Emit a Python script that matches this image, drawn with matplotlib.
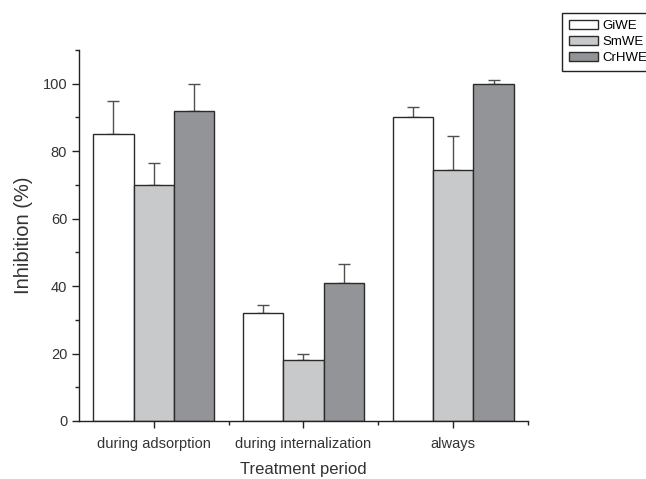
import numpy as np
import matplotlib
matplotlib.use('Agg')
import matplotlib.pyplot as plt
from matplotlib.ticker import MultipleLocator, FixedLocator

plt.rcParams['font.family'] = ['Liberation Sans', 'DejaVu Sans']

# 数据
categories = ['during adsorption', 'during internalization', 'always']
series = ['GiWE', 'SmWE', 'CrHWE']
giwe = [85, 32, 90]
smwe = [70, 18, 74.5]
crhwe = [92, 41, 100]
giwe_err = [10, 2.5, 3.2]
smwe_err = [6.6, 1.8, 10]
crhwe_err = [8, 5.6, 1.1]

colors = ['#ffffff', '#c8c9cb', '#939497']

fig = plt.figure(figsize=(6.46, 4.79), dpi=100)
ax = fig.add_axes([0.1223, 0.1211, 0.695, 0.7745])

x = np.arange(len(categories))
w = 0.27
values = [giwe, smwe, crhwe]
errs = [giwe_err, smwe_err, crhwe_err]
for i in range(3):
    ax.bar(x + (i - 1) * w, values[i], width=w, color=colors[i], edgecolor='#2b2b2b',
           linewidth=1.0, label=series[i], zorder=2)
    ax.errorbar(x + (i - 1) * w, values[i], yerr=[np.zeros(3), errs[i]], fmt='none',
                ecolor='#505050', elinewidth=1.0, capsize=4, capthick=1.0, zorder=1)

ax.set_xlim(-0.5, 2.5)
ax.set_ylim(0, 110)
ax.set_xticks(x)
ax.set_xticklabels(categories)
ax.xaxis.set_minor_locator(FixedLocator([0.5, 1.5, 2.5]))
ax.yaxis.set_major_locator(MultipleLocator(20))
ax.yaxis.set_minor_locator(MultipleLocator(10))
ax.spines['top'].set_visible(False)
ax.spines['right'].set_visible(False)
for s in ['left', 'bottom']:
    ax.spines[s].set_linewidth(1.0)
    ax.spines[s].set_color('#222222')
ax.tick_params(which='major', direction='out', length=5, width=1.0, labelsize=10.5,
               colors='#222222', labelcolor='#333333')
ax.tick_params(axis='x', which='major', pad=6.5)
ax.tick_params(which='minor', direction='out', length=3, width=1.0, colors='#222222')
ax.set_ylabel('Inhibition (%)', fontsize=14.5, color='#333333', labelpad=7)
ax.set_xlabel('Treatment period', fontsize=12, color='#333333', labelpad=8)

fig.legend(loc='upper left', bbox_to_anchor=(562 / 646, 1 - 13 / 479), fontsize=9.5,
           frameon=True, fancybox=False, edgecolor='#222222', framealpha=1,
           handlelength=2.2, handleheight=0.7, handletextpad=0.35, labelspacing=0.3,
           borderpad=0.5, borderaxespad=0)

fig.savefig('out.png', dpi=100)
